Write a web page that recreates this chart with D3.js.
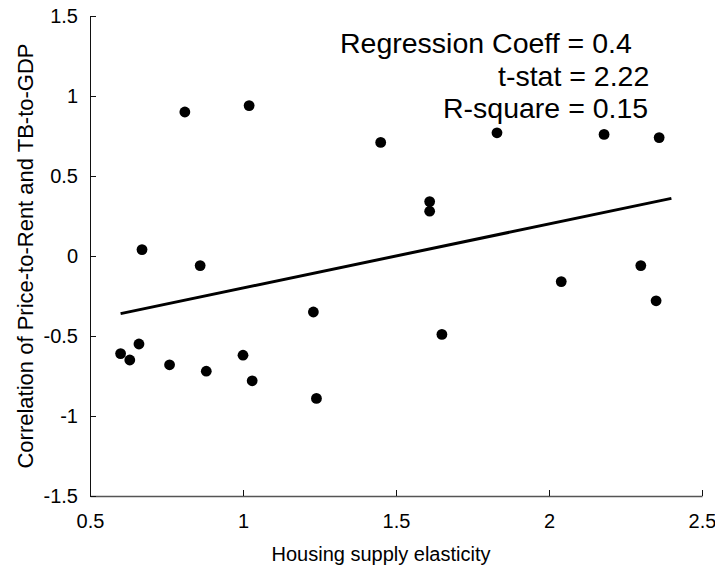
<!DOCTYPE html>
<html>
<head>
<meta charset="utf-8">
<script src="https://cdn.jsdelivr.net/npm/d3@7"></script>
<style>
  html, body { margin: 0; padding: 0; background: #fff; }
  svg { display: block; font-family: "Liberation Sans", Arial, sans-serif; }
</style>
</head>
<body>
<svg id="chart" width="715" height="569"></svg>
<script>
// Data
const elasticity = [0.60, 0.63, 0.66, 0.67, 0.76, 0.81, 0.86, 0.88, 1.00, 1.02, 1.03, 1.23, 1.24, 1.45, 1.61, 1.61, 1.65, 1.83, 2.04, 2.18, 2.30, 2.35, 2.36];
const correlation = [-0.61, -0.65, -0.55, 0.04, -0.68, 0.90, -0.06, -0.72, -0.62, 0.94, -0.78, -0.35, -0.89, 0.71, 0.34, 0.28, -0.49, 0.77, -0.16, 0.76, -0.06, -0.28, 0.74];

const fitX = [0.6, 2.4];
const fitY = [-0.36, 0.36];

const xTicks = [0.5, 1, 1.5, 2, 2.5];
const xTickLabels = ["0.5", "1", "1.5", "2", "2.5"];
const yTicks = [1.5, 1, 0.5, 0, -0.5, -1, -1.5];
const yTickLabels = ["1.5", "1", "0.5", "0", "-0.5", "-1", "-1.5"];

const statLines = ["Regression Coeff = 0.4", "t-stat = 2.22", "R-square = 0.15"];
const xTitle = "Housing supply elasticity";
const yTitle = "Correlation of Price-to-Rent and TB-to-GDP";

(function () {
const svg = d3.select("#chart");
const mLeft = 90, mRight = 702, mTop = 16, mBottom = 496;

const x = d3.scaleLinear().domain([0.5, 2.5]).range([mLeft, mRight]);
const y = d3.scaleLinear().domain([-1.5, 1.5]).range([mBottom, mTop]);

// Axes
const xAxis = d3.axisBottom(x)
  .tickValues(xTicks)
  .tickFormat((d, i) => xTickLabels[i])
  .tickSizeInner(-6)
  .tickSizeOuter(0)
  .tickPadding(18);
const yAxis = d3.axisLeft(y)
  .tickValues(yTicks)
  .tickFormat((d, i) => yTickLabels[i])
  .tickSizeInner(-6)
  .tickSizeOuter(0)
  .tickPadding(12);

const gx = svg.append("g").attr("transform", `translate(0,${mBottom})`).call(xAxis);
const gy = svg.append("g").attr("transform", `translate(${mLeft},0)`).call(yAxis);
[gx, gy].forEach(g => {
  g.selectAll("path, line").attr("stroke", "#111").attr("stroke-width", 1).attr("shape-rendering", "crispEdges");
  g.selectAll("text").attr("fill", "#000").style("font-size", "20px").style("font-family", "'Liberation Sans', Arial, sans-serif");
});
gx.select(".domain").attr("stroke", "#555").attr("stroke-width", 1.6).attr("shape-rendering", null);

// Regression line
svg.append("line")
  .attr("x1", x(fitX[0])).attr("y1", y(fitY[0]))
  .attr("x2", x(fitX[1])).attr("y2", y(fitY[1]))
  .attr("stroke", "#000").attr("stroke-width", 3);

// Points
svg.append("g").selectAll("circle")
  .data(elasticity.map((v, i) => [v, correlation[i]]))
  .join("circle")
  .attr("cx", d => x(d[0]))
  .attr("cy", d => y(d[1]))
  .attr("r", 5.4)
  .attr("fill", "#000");

// Stats annotation
const statX = [340, 498, 443];
const statY = [53, 86, 118];
svg.append("g").selectAll("text")
  .data(statLines)
  .join("text")
  .attr("x", (d, i) => statX[i])
  .attr("y", (d, i) => statY[i])
  .style("font-size", "28.5px")
  .attr("fill", "#000")
  .text(d => d);

// Axis titles
svg.append("text")
  .attr("x", 381).attr("y", 561)
  .attr("text-anchor", "middle")
  .style("font-size", "20px")
  .text(xTitle);

svg.append("text")
  .attr("transform", "translate(33,256) rotate(-90)")
  .attr("text-anchor", "middle")
  .style("font-size", "22px")
  .text(yTitle);
})();
</script>
</body>
</html>
